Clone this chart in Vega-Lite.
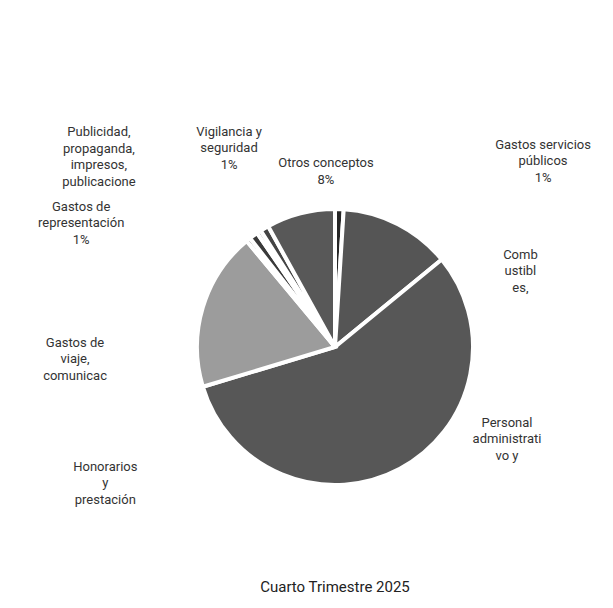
{
  "$schema": "https://vega.github.io/schema/vega-lite/v6.json",
  "autosize": {"type": "none"},
  "width": 556,
  "height": 522,
  "padding": {"left": 57, "top": 86, "right": 0, "bottom": 0},
  "background": "white",
  "config": {"view": {"stroke": null}},
  "title": {
    "text": "Cuarto Trimestre 2025",
    "orient": "bottom",
    "anchor": "middle",
    "offset": -28,
    "fontSize": 15,
    "fontWeight": "normal",
    "font": "Roboto",
    "color": "#222222"
  },
  "data": {
    "values": [
      {"categoria": "Gastos servicios públicos", "etiqueta": "Gastos servicios\npúblicos\n1%", "porcentaje": 1},
      {"categoria": "Combustibles", "etiqueta": "Comb\nustibl\nes,", "porcentaje": 13},
      {"categoria": "Personal administrativo y", "etiqueta": "Personal\nadministrati\nvo y", "porcentaje": 56},
      {"categoria": "Honorarios y prestación", "etiqueta": "Honorarios\ny\nprestación", "porcentaje": 18.5},
      {"categoria": "Gastos de viaje, comunicac", "etiqueta": "Gastos de\nviaje,\ncomunicac", "porcentaje": 0.5},
      {"categoria": "Gastos de representación", "etiqueta": "Gastos de\nrepresentación\n1%", "porcentaje": 1},
      {"categoria": "Publicidad, propaganda, impresos, publicacione", "etiqueta": "Publicidad,\npropaganda,\nimpresos,\npublicacione", "porcentaje": 0.5},
      {"categoria": "Vigilancia y seguridad", "etiqueta": "Vigilancia y\nseguridad\n1%", "porcentaje": 1},
      {"categoria": "Otros conceptos", "etiqueta": "Otros conceptos\n8%", "porcentaje": 8}
    ]
  },
  "transform": [{"window": [{"op": "row_number", "as": "orden"}]}],
  "layer": [
    {
      "mark": {"type": "arc", "outerRadius": 138, "stroke": "white", "strokeWidth": 4},
      "encoding": {
        "theta": {"field": "porcentaje", "type": "quantitative", "stack": true},
        "order": {"field": "orden", "type": "quantitative"},
        "color": {
          "field": "categoria",
          "type": "nominal",
          "legend": null,
          "scale": {
            "domain": ["Gastos servicios públicos", "Combustibles", "Personal administrativo y", "Honorarios y prestación", "Gastos de viaje, comunicac", "Gastos de representación", "Publicidad, propaganda, impresos, publicacione", "Vigilancia y seguridad", "Otros conceptos"],
            "range": ["#262626", "#555555", "#575757", "#9c9c9c", "#4a4a4a", "#3a3a3a", "#7a7a7a", "#444444", "#585858"]
          }
        }
      }
    },
    {
      "mark": {"type": "text", "font": "Roboto", "fontSize": 13, "lineHeight": 16.5, "lineBreak": "\n", "color": "#333333", "align": "center", "baseline": "middle"},
      "encoding": {
        "theta": {
          "field": "orden",
          "type": "quantitative",
          "scale": {
            "type": "linear",
            "zero": false,
            "nice": false,
            "domain": [1, 2, 3, 4, 5, 6, 7, 8, 9],
            "range": [0.800, 1.110, 1.986, 4.232, 4.728, 5.217, 5.450, 5.826, 6.234]
          }
        },
        "radius": {
          "field": "orden",
          "type": "quantitative",
          "scale": {
            "type": "linear",
            "zero": false,
            "nice": false,
            "domain": [1, 2, 3, 4, 5, 6, 7, 8, 9],
            "range": [290, 207, 188, 259, 260, 290, 319, 240, 184]
          }
        },
        "text": {"field": "etiqueta", "type": "nominal"}
      }
    }
  ],
  "resolve": {"scale": {"theta": "independent", "radius": "independent", "color": "independent"}}
}
